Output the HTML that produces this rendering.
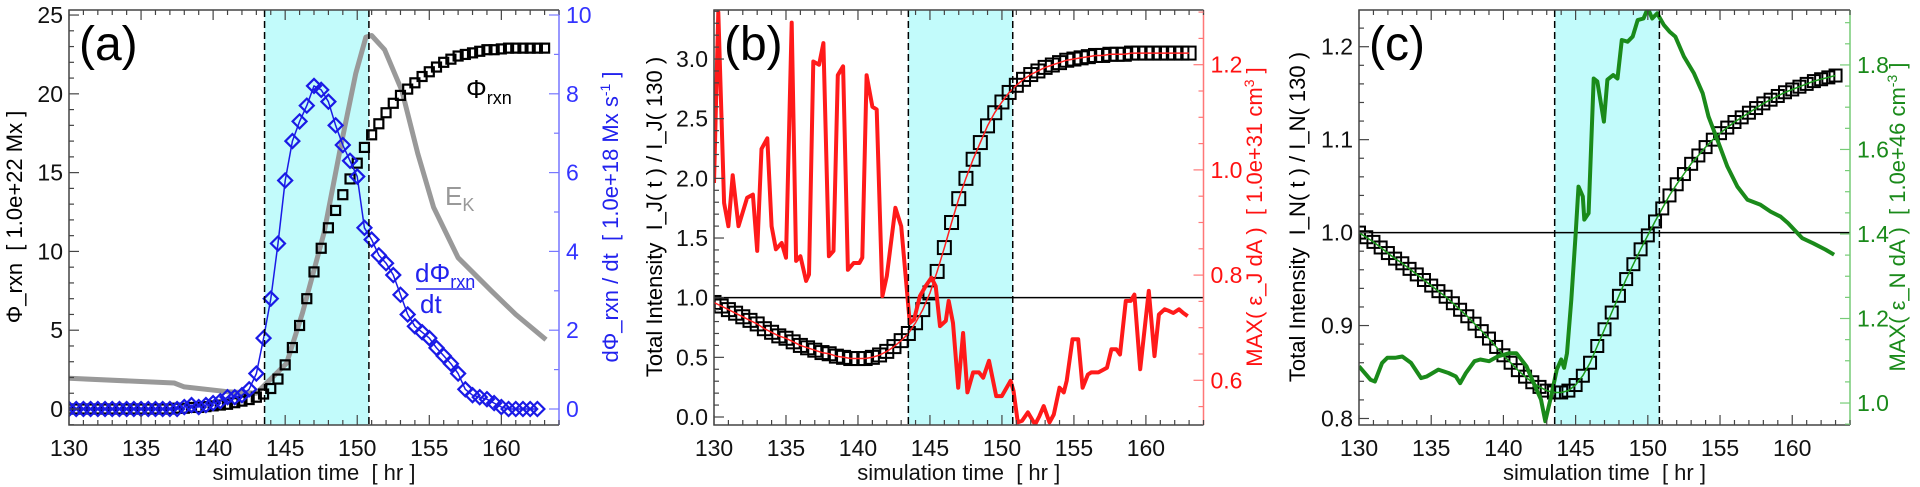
<!DOCTYPE html>
<html><head><meta charset="utf-8"><style>
html,body{margin:0;padding:0;background:#fff;}
svg{display:block;font-family:"Liberation Sans",sans-serif;}
text{white-space:pre;}
</style></head><body>
<svg id="fig" width="1920" height="487" viewBox="0 0 1920 487" xmlns="http://www.w3.org/2000/svg"></svg>
<script>
// ---------- data ----------
const gridT = []; for (let i = 0; i <= 66; i++) gridT.push(130 + i * 0.5);
const phiVals = [0,0,0,0,0,0,0,0,0,0,0,0,0,0,0,0.05,0.05,0.1,0.1,0.15,0.2,0.25,0.3,0.4,0.5,0.6,0.75,0.95,1.3,1.9,2.8,3.9,5.3,7.0,8.7,10.2,11.5,12.6,13.6,14.6,15.6,16.6,17.4,18.1,18.8,19.4,19.9,20.3,20.7,21.1,21.4,21.7,22.0,22.2,22.4,22.5,22.6,22.7,22.8,22.8,22.85,22.9,22.9,22.9,22.9,22.9,22.9];
const dphiVals = [0,0,0,0,0,0,0,0,0,0,0,0,0,0,0,0,0.05,0.1,0.05,0.1,0.15,0.2,0.3,0.3,0.35,0.5,0.9,1.8,2.8,4.2,5.8,6.8,7.3,7.7,8.2,8.1,7.8,7.2,6.7,6.3,5.9,4.6,4.3,3.9,3.7,3.4,2.9,2.4,2.1,1.95,1.8,1.55,1.35,1.15,0.9,0.5,0.35,0.3,0.25,0.15,0.05,0,0,0,0,0];
const ekT = [130,137.3,138.0,141.0,143.0,145.1,146.2,147.7,148.8,149.9,150.6,151.0,151.9,153.1,154.2,155.3,157.0,159.3,161.0,163.1];
const ekVals = [1.95,1.65,1.4,1.1,1.0,2.9,6.1,11.2,16.4,21.3,23.6,23.7,22.8,20.2,16.2,12.8,9.6,7.5,6.0,4.4];
const ijVals = [0.96,0.93,0.9,0.87,0.84,0.81,0.78,0.74,0.71,0.68,0.66,0.63,0.6,0.58,0.56,0.54,0.53,0.51,0.5,0.49,0.49,0.49,0.5,0.52,0.55,0.59,0.64,0.70,0.79,0.90,1.04,1.22,1.42,1.63,1.83,2.0,2.16,2.3,2.44,2.55,2.64,2.72,2.78,2.83,2.87,2.9,2.93,2.95,2.97,2.99,3.0,3.01,3.02,3.03,3.03,3.04,3.04,3.04,3.05,3.05,3.05,3.05,3.05,3.05,3.05,3.05,3.05];
const ejT = [130,130.3,130.7,131.0,131.3,131.7,132.3,132.7,133.0,133.3,133.7,134.0,134.3,134.7,135.0,135.4,135.7,136.0,136.4,136.6,136.9,137.3,137.6,137.98,138.3,138.6,138.97,139.3,139.7,140.1,140.3,140.6,141.0,141.3,141.7,142.0,142.6,143.0,143.6,143.9,144.3,144.7,145.1,145.4,145.7,146.1,146.3,146.6,146.96,147.3,147.6,148.0,148.4,148.7,149.1,149.6,149.99,150.6,150.8,151.1,151.4,151.8,152.3,152.6,152.9,153.3,153.6,154.0,154.3,154.5,154.9,155.3,155.6,155.97,156.2,156.7,157.1,157.3,157.6,157.95,158.2,158.6,158.95,159.2,159.6,160.2,160.6,160.9,161.3,161.6,161.9,162.3,162.6,162.9];
const ejVals = [0.975,1.30,0.937,0.893,0.99,0.893,0.947,0.953,0.846,1.04,1.06,0.893,0.849,0.861,0.833,1.28,0.827,0.836,0.789,0.801,1.206,1.2,1.241,0.836,0.846,1.18,1.197,0.81,0.823,0.823,0.833,1.18,1.12,1.115,0.76,0.798,0.928,0.893,0.709,0.716,0.76,0.779,0.795,0.779,0.703,0.713,0.751,0.709,0.586,0.69,0.577,0.615,0.615,0.605,0.637,0.57,0.57,0.599,0.58,0.52,0.523,0.539,0.516,0.532,0.551,0.52,0.535,0.586,0.577,0.599,0.678,0.678,0.586,0.611,0.615,0.615,0.621,0.624,0.659,0.659,0.649,0.751,0.751,0.763,0.621,0.77,0.646,0.725,0.735,0.732,0.728,0.735,0.728,0.722];
const inVals = [1.0,0.995,0.99,0.984,0.978,0.972,0.967,0.961,0.955,0.949,0.943,0.937,0.931,0.924,0.917,0.91,0.902,0.894,0.886,0.877,0.868,0.86,0.852,0.845,0.839,0.834,0.83,0.828,0.828,0.83,0.836,0.846,0.86,0.878,0.896,0.914,0.932,0.95,0.966,0.982,0.997,1.012,1.026,1.04,1.052,1.063,1.074,1.083,1.092,1.1,1.107,1.113,1.119,1.124,1.129,1.134,1.139,1.143,1.147,1.151,1.154,1.157,1.16,1.163,1.165,1.167,1.169];
const enT = [130,130.3,130.8,131.1,131.6,131.96,132.5,133.0,133.6,134.3,134.7,135.5,136.2,136.7,137.0,137.4,138.0,138.4,139.0,139.6,140.4,140.9,141.6,142.1,142.6,142.9,143.3,143.7,144.0,144.2,144.4,144.7,145.0,145.2,145.5,145.6,145.9,146.25,146.5,146.96,147.2,147.6,147.9,148.2,148.6,148.95,149.3,149.7,150.0,150.3,150.65,151.1,151.5,151.9,152.5,153.2,153.8,154.2,154.9,155.5,156.2,156.9,157.8,158.5,159.2,159.7,160.7,161.45,162.3,162.9];
const enVals = [1.087,1.075,1.055,1.051,1.095,1.107,1.107,1.11,1.095,1.059,1.063,1.079,1.071,1.063,1.047,1.071,1.099,1.103,1.099,1.11,1.118,1.118,1.087,1.047,1.008,0.957,1.016,1.079,1.103,1.083,1.118,1.244,1.398,1.512,1.489,1.434,1.449,1.768,1.761,1.666,1.765,1.776,1.768,1.859,1.855,1.867,1.906,1.91,1.934,1.91,1.922,1.895,1.879,1.867,1.82,1.78,1.733,1.678,1.615,1.56,1.512,1.481,1.469,1.453,1.441,1.426,1.39,1.378,1.363,1.351];
const xTicks = [130,135,140,145,150,155,160];
const bandA = [143.57,150.81], bandB = [143.5,150.75], bandC = [143.55,150.8];

// ---------- helpers ----------
const NS = 'http://www.w3.org/2000/svg';
const svg = document.getElementById('fig');
function mk(tag, attrs, parent) {
  const e = document.createElementNS(NS, tag);
  for (const k in attrs) e.setAttribute(k, attrs[k]);
  (parent || svg).appendChild(e);
  return e;
}
const Y0 = 10, Y1 = 425;
function makePanel(p) {
  const g = mk('g', {});
  
  
  p.g = g;
  p.sx = t => p.x0 + (t - 130) / (164 - 130) * (p.x1 - p.x0);
  p.syl = v => Y1 - (v - p.yl[0]) / (p.yl[1] - p.yl[0]) * (Y1 - Y0);
  p.syr = v => Y1 - (v - p.yr[0]) / (p.yr[1] - p.yr[0]) * (Y1 - Y0);
  const cp = mk('clipPath', {id: 'clip-' + p.name}, g);
  mk('rect', {x: p.x0, y: Y0, width: p.x1 - p.x0, height: Y1 - Y0}, cp);
  const band = mk('rect', {x: p.sx(p.band[0]), y: Y0, width: p.sx(p.band[1]) - p.sx(p.band[0]), height: Y1 - Y0, fill: '#c2fbfb'}, g);
  
  
  return p;
}
function finishPanel(p) {
  const g = p.g;
  for (const b of p.band) {
    const l = mk('line', {x1: p.sx(b), x2: p.sx(b), y1: Y0, y2: Y1, stroke: '#000', 'stroke-width': 1.5, 'stroke-dasharray': '7,4'}, g);
    
    
  }
  mk('path', {d: `M${p.x1},${Y0} H${p.x0} V${Y1} H${p.x1}`, fill: 'none', stroke: '#444', 'stroke-width': 1.5}, g);
  mk('line', {x1: p.x1, x2: p.x1, y1: Y0, y2: Y1, stroke: p.rc, 'stroke-width': 1.5}, g);
  for (let t = 130; t <= 164; t++) {
    const L = t % 5 === 0 ? 10 : 5, x = p.sx(t);
    mk('line', {x1: x, x2: x, y1: Y1, y2: Y1 - L, stroke: '#444', 'stroke-width': 1.2}, g);
    mk('line', {x1: x, x2: x, y1: Y0, y2: Y0 + L, stroke: '#444', 'stroke-width': 1.2}, g);
  }
  for (const t of xTicks) {
    const tx = mk('text', {x: p.sx(t), y: 456, 'font-size': 23, 'text-anchor': 'middle', fill: '#111'}, g);
    tx.textContent = t;
    
    
  }
  const xt = mk('text', {x: (p.x0 + p.x1) / 2, y: 480, 'font-size': 22, 'text-anchor': 'middle', fill: '#111'}, g);
  xt.textContent = 'simulation time  [ hr ]';
  
  
  const lmin = Math.ceil(p.yl[0] / p.lMinor - 1e-6);
  for (let i = lmin; i * p.lMinor <= p.yl[1] + 1e-9; i++) {
    const v = i * p.lMinor, y = p.syl(v);
    const major = Math.abs(v / p.lMajor - Math.round(v / p.lMajor)) < 1e-6;
    mk('line', {x1: p.x0, x2: p.x0 + (major ? 10 : 5), y1: y, y2: y, stroke: '#444', 'stroke-width': 1.2}, g);
  }
  for (const v of p.lLabels) {
    const tx = mk('text', {x: p.x0 - 6, y: p.syl(v) + 8, 'font-size': 23, 'text-anchor': 'end', fill: '#111'}, g);
    tx.textContent = p.lFmt(v);
    
    
  }
  const rmin = Math.ceil(p.yr[0] / p.rMinor - 1e-6);
  for (let i = rmin; i * p.rMinor <= p.yr[1] + 1e-9; i++) {
    const v = i * p.rMinor, y = p.syr(v);
    const major = Math.abs(v / p.rMajor - Math.round(v / p.rMajor)) < 1e-6;
    mk('line', {x1: p.x1, x2: p.x1 - (major ? 10 : 5), y1: y, y2: y, stroke: p.rc, 'stroke-width': 1.2}, g);
  }
  for (const v of p.rLabels) {
    const tx = mk('text', {x: p.x1 + 7, y: p.syr(v) + 8, 'font-size': 23, 'text-anchor': 'start', fill: p.rtc}, g);
    tx.textContent = p.rFmt(v);
    
    
  }
  const lab = mk('text', {x: p.x0 + 10, y: 60, 'font-size': 48, fill: '#000'}, g);
  lab.textContent = p.label;
  
  
}
function rotTitle(p, x, html, color, name) {
  const t = mk('text', {x: x, y: 217, 'font-size': 22, 'text-anchor': 'middle', fill: color, transform: `rotate(-90 ${x} 217)`}, p.g);
  t.innerHTML = html;
  
  
}
function polyline(p, ts, vs, sy, attrs, name) {
  const d = ts.map((t, i) => (i ? 'L' : 'M') + p.sx(t).toFixed(1) + ',' + sy(vs[i]).toFixed(1)).join(' ');
  const e = mk('path', Object.assign({d: d, fill: 'none', 'clip-path': `url(#clip-${p.name})`, 'stroke-linejoin': 'round'}, attrs), p.g);
  
  
}
function squares(p, ts, vs, sy, s, sw, name) {
  const g = mk('g', {'clip-path': `url(#clip-${p.name})`}, p.g);
  
  
  ts.forEach((t, i) => {
    const r = mk('rect', {x: p.sx(t) - s / 2, y: sy(vs[i]) - s / 2, width: s, height: s, fill: 'none', stroke: '#000', 'stroke-width': sw}, g);
    
    
  });
}

// ---------- panel (a) ----------
const pa = makePanel({name: 'panel-a', x0: 69, x1: 559, band: bandA, yl: [-1.015, 25.32], yr: [-0.406, 10.127], rc: '#7777ff', rtc: '#3333ff',
  lMinor: 1, lMajor: 5, lLabels: [0,5,10,15,20,25], lFmt: v => String(v), rMinor: 1, rMajor: 2, rLabels: [0,2,4,6,8,10], rFmt: v => String(v), label: '(a)'});
polyline(pa, ekT, ekVals, pa.syl, {stroke: '#999', 'stroke-width': 5}, 'ek-line');
squares(pa, gridT, phiVals, pa.syl, 9, 2.2, 'phi-rxn-series');
const dT = gridT.slice(0, dphiVals.length);
polyline(pa, dT, dphiVals, pa.syr, {stroke: '#1a1ae6', 'stroke-width': 1.5}, 'dphi-dt-line');
{
  const g = mk('g', {'clip-path': 'url(#clip-panel-a)'}, pa.g);
  
  
  dT.forEach((t, i) => {
    const x = pa.sx(t), y = pa.syr(dphiVals[i]), r = 7;
    const e = mk('path', {d: `M${x},${y - r} L${x + r},${y} L${x},${y + r} L${x - r},${y} Z`, fill: 'none', stroke: '#1a1ae6', 'stroke-width': 2.2}, g);
    
    
  });
}
{
  const a1 = mk('text', {x: 466, y: 98, 'font-size': 26, fill: '#000'}, pa.g);
  a1.innerHTML = 'Φ<tspan font-size="18" dy="6">rxn</tspan>';
   
  const a2 = mk('text', {x: 445, y: 205, 'font-size': 26, fill: '#999'}, pa.g);
  a2.innerHTML = 'E<tspan font-size="18" dy="6">K</tspan>';
   
  const a3 = mk('text', {x: 415, y: 282, 'font-size': 26, fill: '#2222ee'}, pa.g);
  a3.innerHTML = 'dΦ<tspan font-size="18" dy="6">rxn</tspan>';
   
  mk('line', {x1: 416, x2: 472, y1: 289, y2: 289, stroke: '#2222ee', 'stroke-width': 1.5}, pa.g);
  const a4 = mk('text', {x: 420, y: 313, 'font-size': 26, fill: '#2222ee'}, pa.g);
  a4.textContent = 'dt';
   
}
rotTitle(pa, 22, 'Φ_rxn  [ 1.0e+22 Mx ]', '#000', 'left-y-axis-title');
rotTitle(pa, 618, 'dΦ_rxn / dt  [ 1.0e+18 Mx s<tspan font-size="14" dy="-8">-1</tspan><tspan dy="8"> ]</tspan>', '#2222ee', 'right-y-axis-title');
finishPanel(pa);

// ---------- panel (b) ----------
const pb = makePanel({name: 'panel-b', x0: 714, x1: 1203.5, band: bandB, yl: [-0.067, 3.411], yr: [0.515, 1.304], rc: '#ff7777', rtc: '#ff1111',
  lMinor: 0.1, lMajor: 0.5, lLabels: [0,0.5,1,1.5,2,2.5,3], lFmt: v => v.toFixed(1), rMinor: 0.05, rMajor: 0.2, rLabels: [0.6,0.8,1.0,1.2], rFmt: v => v.toFixed(1), label: '(b)'});
mk('line', {x1: pb.x0, x2: pb.x1, y1: pb.syl(1), y2: pb.syl(1), stroke: '#000', 'stroke-width': 1.5}, pb.g);
squares(pb, gridT, ijVals, pb.syl, 13, 2, 'ij-ratio-series');
polyline(pb, gridT, ijVals, pb.syl, {stroke: '#ff2020', 'stroke-width': 1.5}, 'ij-ratio-line');
polyline(pb, ejT, ejVals, pb.syr, {stroke: '#ff1a1a', 'stroke-width': 4}, 'max-ej-line');
rotTitle(pb, 662, 'Total Intensity  I_J( t ) / I_J( 130 )', '#000', 'left-y-axis-title');
rotTitle(pb, 1262, 'MAX( ε_J dA )  [ 1.0e+31 cm<tspan font-size="14" dy="-8">3</tspan><tspan dy="8"> ]</tspan>', '#ff1111', 'right-y-axis-title');
finishPanel(pb);

// ---------- panel (c) ----------
const pc = makePanel({name: 'panel-c', x0: 1359, x1: 1850, band: bandC, yl: [0.793, 1.2395], yr: [0.948, 1.93], rc: '#77cc77', rtc: '#1a8a1a',
  lMinor: 0.02, lMajor: 0.1, lLabels: [0.8,0.9,1.0,1.1,1.2], lFmt: v => v.toFixed(1), rMinor: 0.05, rMajor: 0.2, rLabels: [1.0,1.2,1.4,1.6,1.8], rFmt: v => v.toFixed(1), label: '(c)'});
mk('line', {x1: pc.x0, x2: pc.x1, y1: pc.syl(1), y2: pc.syl(1), stroke: '#000', 'stroke-width': 1.5}, pc.g);
squares(pc, gridT, inVals, pc.syl, 12, 2, 'in-ratio-series');
polyline(pc, gridT, inVals, pc.syl, {stroke: '#1a9a1a', 'stroke-width': 1.5}, 'in-ratio-line');
polyline(pc, enT, enVals, pc.syr, {stroke: '#1a8a1a', 'stroke-width': 4}, 'max-en-line');
rotTitle(pc, 1305, 'Total Intensity  I_N( t ) / I_N( 130 )', '#000', 'left-y-axis-title');
rotTitle(pc, 1905, 'MAX( ε_N dA )  [ 1.0e+46 cm<tspan font-size="14" dy="-8">-3</tspan><tspan dy="8"> ]</tspan>', '#1a8a1a', 'right-y-axis-title');
finishPanel(pc);
</script>
</body></html>
